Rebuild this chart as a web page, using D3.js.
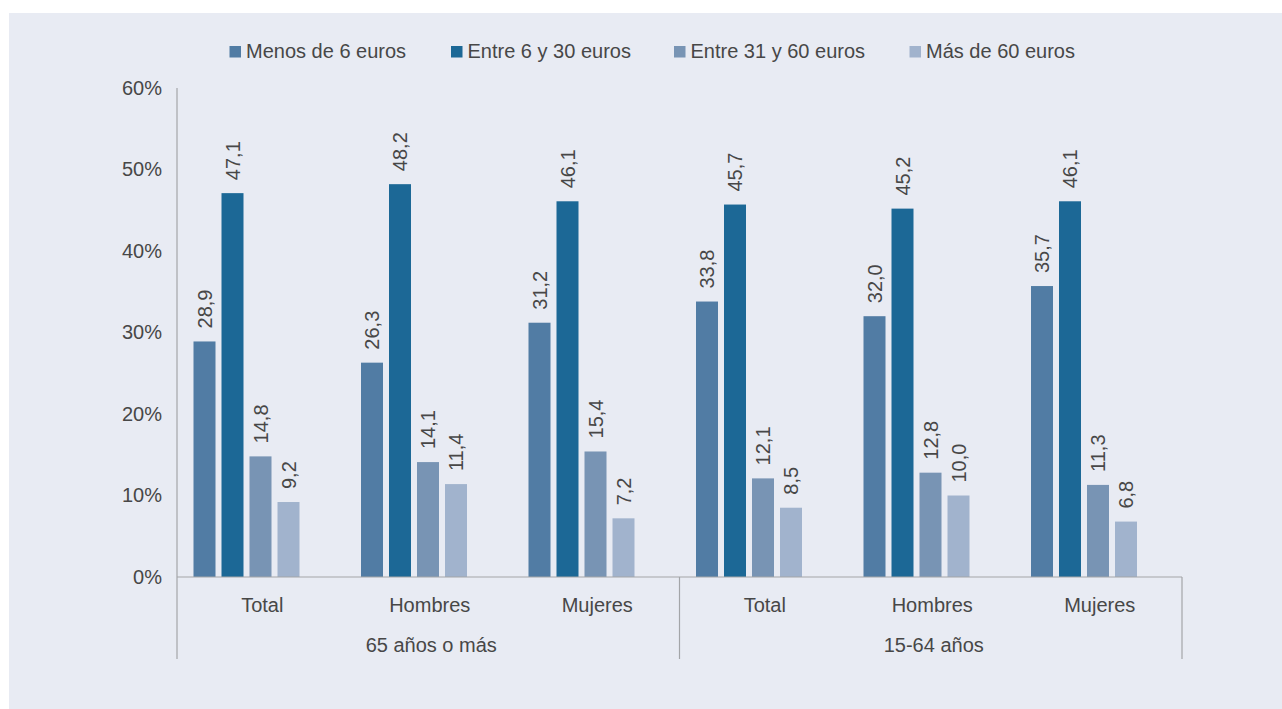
<!DOCTYPE html>
<html>
<head>
<meta charset="utf-8">
<script src="https://cdn.jsdelivr.net/npm/d3@7/dist/d3.min.js"></script>
<style>
  html, body { margin: 0; padding: 0; background: #ffffff; }
  svg { display: block; }
  text { font-family: "Liberation Sans", Arial, Helvetica, sans-serif; fill: #474747; }
</style>
</head>
<body>
<svg id="chart" width="1282" height="709"></svg>
<script>
// ---- Data ----
const groups = ["65 años o más", "15-64 años"];
const subcategories = ["Total", "Hombres", "Mujeres"];
const seriesNames = ["Menos de 6 euros", "Entre 6 y 30 euros", "Entre 31 y 60 euros", "Más de 60 euros"];
const seriesColors = ["#517ca4", "#1c6896", "#7894b4", "#a1b3cd"];
// values per series, order: 65+ Total, Hombres, Mujeres, 15-64 Total, Hombres, Mujeres
const menos6   = [28.9, 26.3, 31.2, 33.8, 32.0, 35.7];
const entre6y30 = [47.1, 48.2, 46.1, 45.7, 45.2, 46.1];
const entre31y60 = [14.8, 14.1, 15.4, 12.1, 12.8, 11.3];
const mas60    = [9.2, 11.4, 7.2, 8.5, 10.0, 6.8];
const yTicks = [0, 10, 20, 30, 40, 50, 60];

const seriesValues = [menos6, entre6y30, entre31y60, mas60];

(function () {
const svg = d3.select("#chart");

// background panel
svg.append("rect").attr("x", 9).attr("y", 13).attr("width", 1273).attr("height", 696).attr("fill", "#e8ebf3");

const pLeft = 177, pRight = 1182, pTop = 88, pBottom = 577, axisBottom = 659;

const categories = [];
groups.forEach((g, gi) => subcategories.forEach((s, si) => categories.push({ key: g + "|" + s, group: g, sub: s, idx: gi * 3 + si })));

const x = d3.scaleBand().domain(categories.map(c => c.key)).range([pLeft, pRight]).padding(0);
const xs = d3.scaleBand().domain(seriesNames).range([16.5, 122.5]).paddingInner(6 / 28).paddingOuter(0);
const y = d3.scaleLinear().domain([0, 60]).range([pBottom, pTop]);
const gx = d3.scaleBand().domain(groups).range([pLeft, pRight]).padding(0);

// bars
seriesNames.forEach((sName, si) => {
  const data = categories.map(c => ({ c, v: seriesValues[si][c.idx] }));
  const g = svg.append("g");
  g.selectAll("rect").data(data).join("rect")
    .attr("x", d => x(d.c.key) + xs(sName))
    .attr("y", d => y(d.v))
    .attr("width", xs.bandwidth())
    .attr("height", d => y(0) - y(d.v))
    .attr("fill", seriesColors[si]);
  g.selectAll("text").data(data).join("text")
    .attr("transform", d => `translate(${x(d.c.key) + xs(sName) + xs.bandwidth() / 2},${y(d.v) - 13}) rotate(-90)`)
    .attr("text-anchor", "start")
    .attr("dy", "0.35em")
    .style("font-size", "20px")
    .text(d => d3.format(".1f")(d.v).replace(".", ","));
});

// y axis labels
const yAxis = d3.axisLeft(y).tickValues(yTicks).tickSize(0).tickPadding(15).tickFormat(d => d + "%");
const ya = svg.append("g").attr("transform", `translate(${pLeft},0)`).call(yAxis);
ya.select(".domain").remove();
ya.selectAll("text").style("font-size", "20px").attr("fill", "#474747").attr("dy", "0.3em").style("font-family", '"Liberation Sans", Arial, sans-serif');

// axis lines
const lineColor = "#a3a5a8";
svg.append("line").attr("x1", pLeft).attr("x2", pLeft).attr("y1", pTop).attr("y2", axisBottom).attr("stroke", lineColor).attr("stroke-width", 1.2);
svg.append("line").attr("x1", pLeft).attr("x2", pRight).attr("y1", pBottom).attr("y2", pBottom).attr("stroke", lineColor).attr("stroke-width", 1.2);
groups.forEach(g => {
  const xe = gx(g) + gx.bandwidth();
  svg.append("line").attr("x1", xe).attr("x2", xe).attr("y1", pBottom).attr("y2", axisBottom).attr("stroke", lineColor).attr("stroke-width", 1.2);
});

// category labels
svg.append("g").selectAll("text").data(categories).join("text")
  .attr("x", d => x(d.key) + x.bandwidth() / 2 + 1.5)
  .attr("y", 612)
  .attr("text-anchor", "middle")
  .style("font-size", "20px")
  .text(d => d.sub);

// group labels
svg.append("g").selectAll("text").data(groups).join("text")
  .attr("x", d => gx(d) + gx.bandwidth() / 2 + 3)
  .attr("y", 652)
  .attr("text-anchor", "middle")
  .style("font-size", "20px")
  .text(d => d);

// legend
const legendX = [229.5, 451, 674, 909.5];
const lg = svg.append("g");
seriesNames.forEach((s, i) => {
  lg.append("rect").attr("x", legendX[i]).attr("y", 46).attr("width", 11.5).attr("height", 11.5).attr("fill", seriesColors[i]);
  lg.append("text").attr("x", legendX[i] + 16.5).attr("y", 57.5).style("font-size", "20px").text(s);
});
})();
</script>
</body>
</html>
